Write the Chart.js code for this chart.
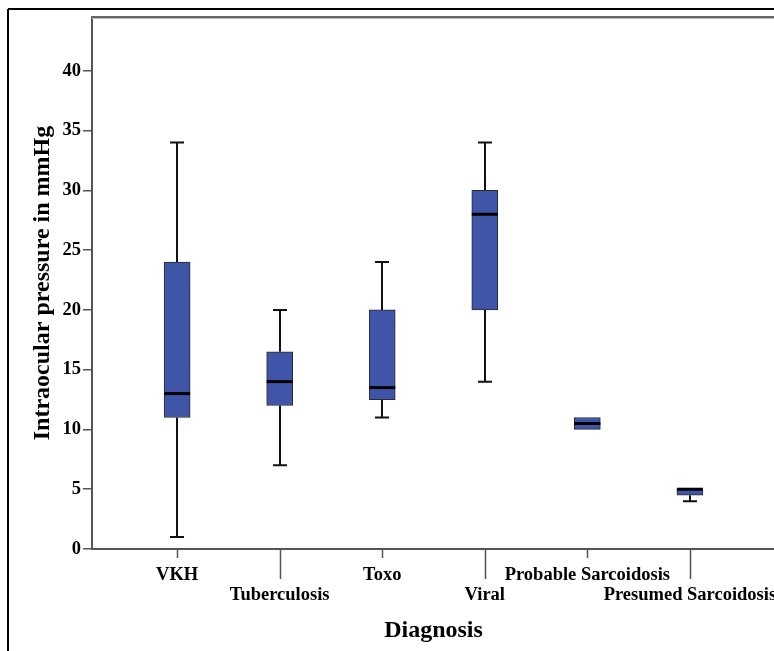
<!DOCTYPE html>
<html>
<head>
<meta charset="utf-8">
<script src="https://cdn.jsdelivr.net/npm/chart.js@4/dist/chart.umd.min.js"></script>
<style>
  html, body { margin: 0; padding: 0; overflow: hidden; background: #fff; }
  #wrap { position: absolute; left: 0; top: 0; width: 860px; height: 651px; }
</style>
</head>
<body>
<div id="wrap"><canvas id="c" width="860" height="651"></canvas></div>
<script>
// ---- data ----
const categories = ['VKH', 'Tuberculosis', 'Toxo', 'Viral', 'Probable Sarcoidosis', 'Presumed Sarcoidosis'];
const whiskerMin = [1, 7, 11, 14, 10, 4];
const q1Values   = [11, 12, 12.5, 20, 10, 4.5];
const medians    = [13, 14, 13.5, 28, 10.5, 5];
const q3Values   = [24, 16.5, 20, 30, 11, 5];
const whiskerMax = [34, 20, 24, 34, 11, 5];
const yTickValues = [0, 5, 10, 15, 20, 25, 30, 35, 40];
const xTitle = 'Diagnosis';
const yTitle = 'Intraocular pressure in mmHg';

const SERIF = '"Liberation Serif", "Times New Roman", serif';

const boxPlugin = {
  id: 'boxWhiskers',
  beforeDraw(chart) {
    const ctx = chart.ctx;
    ctx.save();
    ctx.strokeStyle = '#000';
    ctx.lineWidth = 2;
    ctx.beginPath();
    ctx.moveTo(8, 9); ctx.lineTo(chart.width, 9);
    ctx.moveTo(8, 9); ctx.lineTo(8, chart.height);
    ctx.stroke();
    ctx.restore();
  },
  beforeDatasetsDraw(chart) {
    const {ctx, scales: {x, y}} = chart;
    const meta = chart.getDatasetMeta(0);
    ctx.save();
    ctx.strokeStyle = '#111';
    ctx.lineWidth = 2;
    categories.forEach((c, i) => {
      const px = Math.round(x.getPixelForValue(i));
      const capHalf = meta.data[i].width * 0.27;
      const segs = [[whiskerMin[i], q1Values[i]], [q3Values[i], whiskerMax[i]]];
      segs.forEach(([a, b], k) => {
        if (a === b) return;
        const ya = y.getPixelForValue(a), yb = y.getPixelForValue(b);
        ctx.beginPath();
        ctx.moveTo(px, ya); ctx.lineTo(px, yb);
        const capY = k === 0 ? ya : yb;
        ctx.moveTo(px - capHalf, capY); ctx.lineTo(px + capHalf, capY);
        ctx.stroke();
      });
    });
    ctx.restore();
  },
  afterDatasetsDraw(chart) {
    const {ctx, scales: {x, y}} = chart;
    const meta = chart.getDatasetMeta(0);
    ctx.save();
    ctx.strokeStyle = '#000';
    ctx.lineWidth = 3;
    categories.forEach((c, i) => {
      const bar = meta.data[i];
      const py = y.getPixelForValue(medians[i]);
      ctx.beginPath();
      ctx.moveTo(bar.x - bar.width / 2, py);
      ctx.lineTo(bar.x + bar.width / 2, py);
      ctx.stroke();
    });
    ctx.restore();
  },
  afterDraw(chart) {
    const {ctx, chartArea: a, scales: {x}} = chart;
    ctx.save();
    // top frame of plot
    ctx.strokeStyle = '#666';
    ctx.lineWidth = 2;
    ctx.beginPath();
    ctx.moveTo(a.left - 1, a.top); ctx.lineTo(chart.width, a.top);
    ctx.stroke();
    ctx.strokeStyle = '#bbb';
    ctx.lineWidth = 1;
    ctx.beginPath();
    ctx.moveTo(a.left, a.top + 1.5); ctx.lineTo(chart.width, a.top + 1.5);
    ctx.stroke();
    // x tick marks (staggered)
    ctx.strokeStyle = '#555';
    ctx.lineWidth = 1.5;
    categories.forEach((c, i) => {
      const px = Math.round(x.getPixelForValue(i)) + 0.5;
      const len = i % 2 === 0 ? 9 : 30;
      ctx.beginPath();
      ctx.moveTo(px, a.bottom); ctx.lineTo(px, a.bottom + len);
      ctx.stroke();
    });
    ctx.restore();
  }
};

new Chart(document.getElementById('c'), {
  type: 'bar',
  data: {
    datasets: [{
      data: categories.map((c, i) => ({x: i, y: [q1Values[i], q3Values[i]]})),
      backgroundColor: '#3f56a8',
      borderColor: '#2b2b2b',
      borderWidth: 1,
      borderSkipped: false,
      barThickness: 26
    }]
  },
  options: {
    responsive: false,
    animation: false,
    events: [],
    layout: { padding: { left: 0, top: 17, right: 85, bottom: 0 } },
    plugins: { legend: { display: false }, tooltip: { enabled: false } },
    scales: {
      x: {
        type: 'linear',
        offset: false,
        min: -0.83,
        max: 5.83,
        grid: { display: false, offset: false },
        border: { display: true, color: '#555', width: 2 },
        afterBuildTicks(scale) { scale.ticks = categories.map((c, i) => ({value: i})); },
        afterFit(scale) { scale.height = 102; },
        ticks: {
          autoSkip: false,
          maxRotation: 0,
          minRotation: 0,
          padding: 8,
          color: '#000',
          font: { family: SERIF, size: 18.5, weight: 'bold', lineHeight: 1.08 },
          callback(v) {
            const i = Math.round(v);
            return i % 2 === 0 ? [categories[i]] : ['', categories[i]];
          }
        },
        title: {
          display: true,
          text: xTitle,
          color: '#000',
          font: { family: SERIF, size: 24, weight: 'bold' },
          padding: { top: 0, bottom: 6 }
        }
      },
      y: {
        min: 0,
        max: 44.5,
        grid: { display: true, drawOnChartArea: false, drawTicks: true, tickLength: 9, color: '#555', lineWidth: 1.5 },
        border: { display: true, color: '#555', width: 2 },
        afterBuildTicks(scale) { scale.ticks = yTickValues.map(v => ({value: v})); },
        afterFit(scale) { scale.width = 92; },
        ticks: {
          padding: 2,
          color: '#000',
          font: { family: SERIF, size: 18.5, weight: 'bold' }
        },
        title: {
          display: true,
          text: yTitle,
          color: '#000',
          font: { family: SERIF, size: 24, weight: 'bold' },
          padding: { top: 28, bottom: 0 }
        }
      }
    }
  },
  plugins: [boxPlugin]
});
</script>
</body>
</html>
